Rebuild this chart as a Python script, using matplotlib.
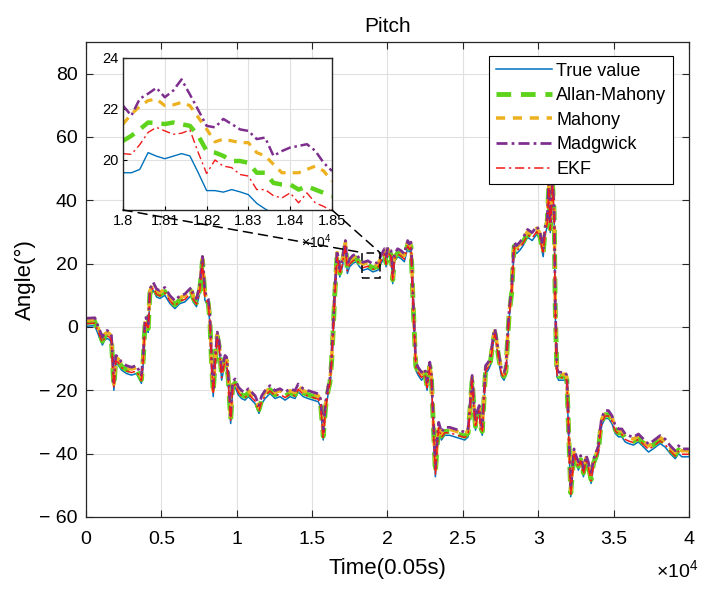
import matplotlib
matplotlib.use("Agg")
from matplotlib import pyplot as plt
from matplotlib.patches import Rectangle, ConnectionPatch
import numpy as np

plt.rcParams['font.family'] = ['Liberation Sans', 'DejaVu Sans']
plt.rcParams['mathtext.fontset'] = 'custom'
plt.rcParams['mathtext.rm'] = 'Liberation Sans'

# ---- data ----
series_names = ["True value", "Allan-Mahony", "Mahony", "Madgwick", "EKF"]

# main track (middle of the band, ~Allan-Mahony level)
t_main = [0, 590, 700, 920, 1090, 1250, 1410, 1580, 1690, 1760, 1850, 1980,
          2140, 2360, 2690, 3020, 3350, 3570, 3680, 3800, 3910, 3970, 4060,
          4130, 4240, 4460, 4680, 4900, 5230, 5570, 5900, 6230, 6560, 6780,
          7000, 7110, 7330, 7550, 7730, 7890, 8110, 8220, 8330, 8440, 8550,
          8710, 8840, 9000, 9220, 9330, 9440, 9600, 9730, 9890, 10110, 10330,
          10550, 10770, 11000, 11220, 11480, 11660, 11880, 12210, 12540,
          12870, 13210, 13540, 13870, 14080, 14410, 14740, 15080, 15410,
          15560, 15740, 15900, 16070, 16180, 16290, 16400, 16510, 16660,
          16840, 17010, 17210, 17340, 17490, 17710, 17930, 18150, 18370,
          18700, 19030, 19360, 19580, 19800, 19910, 20020, 20240, 20350,
          20460, 20680, 20900, 21120, 21340, 21450, 21560, 21710, 21880,
          22030, 22260, 22480, 22630, 22810, 22920, 23070, 23180, 23290,
          23400, 23580, 23800, 24130, 24470, 24800, 25130, 25350, 25460,
          25620, 25730, 25840, 25950, 26090, 26180, 26290, 26400, 26510,
          26690, 26840, 27020, 27130, 27240, 27400, 27570, 27730, 27860,
          27970, 28080, 28240, 28350, 28410, 28570, 28790, 29010, 29300,
          29600, 29900, 30100, 30330, 30450, 30600, 30700, 30800, 30950,
          31060, 31130, 31240, 31350, 31790, 31900, 31960, 32050, 32160,
          32270, 32380, 32510, 32670, 32820, 33000, 33180, 33330, 33510,
          33670, 33840, 34000, 34110, 34220, 34440, 34660, 34890, 35110,
          35330, 35550, 35770, 35990, 36320, 36650, 36980, 37320, 37650,
          38090, 38420, 38760, 39090, 39310, 39530, 40000]
pitch_main = [1.45, 1.6, 0.2, -2.4, -4.5, -2.9, -2.4, -2.9, -4.0, -10.3, -18.8,
              -10.3, -10.8, -12.4, -13.5, -14.0, -13.5, -15.6, -16.6, -10.3,
              0.2, 1.7, 0.6, -0.5, 10.7, 12.8, 10.7, 10.2, 11.2, 8.6, 7.0, 8.6,
              9.1, 10.2, 11.2, 9.1, 7.6, 11.8, 21.0, 9.7, 7.6, 2.3, -11.4,
              -20.8, -12.4, -2.9, -6.1, -15.6, -10.3, -10.8, -16.6, -29.3,
              -18.8, -17.7, -20.3, -21.4, -21.9, -20.8, -21.9, -23.0, -26.1,
              -23.0, -21.4, -19.8, -21.4, -20.8, -21.9, -20.8, -21.4, -19.3,
              -20.8, -21.4, -21.9, -22.4, -24.0, -34.5, -25.1, -19.8, -17.7,
              -11.4, -0.9, 10.7, 22.8, 17.0, 20.2, 26.0, 18.1, 20.2, 21.3,
              21.8, 20.2, 19.1, 19.6, 18.6, 19.1, 21.3, 23.4, 20.2, 23.9, 22.8,
              14.9, 21.8, 23.4, 22.8, 21.8, 26.0, 24.9, 25.5, 6.5, -12.4,
              -14.0, -15.6, -14.5, -18.8, -12.4, -16.6, -33.5, -46.1, -37.7,
              -31.4, -34.5, -33.0, -33.0, -33.5, -34.0, -34.5, -33.5, -27.2,
              -16.6, -25.1, -31.4, -28.2, -26.1, -31.4, -33.0, -23.0, -13.5,
              -12.4, -10.8, -4.0, -1.9, -5.1, -10.3, -14.5, -15.6, -14.0, -4.0,
              4.4, 10.7, 21.2, 25.5, 24.4, 25.5, 27.0, 29.5, 28.5, 30.5, 29.0,
              23.4, 30.0, 33.0, 44.0, 31.0, 45.0, 36.0, 6.5, -14.5, -15.6,
              -15.6, -16.6, -25.1, -37.7, -52.4, -46.1, -39.8, -41.9, -44.0,
              -41.9, -46.1, -41.9, -44.0, -48.2, -43.0, -40.9, -38.8, -33.5,
              -29.8, -27.7, -27.7, -29.3, -32.4, -33.5, -33.5, -35.1, -35.6,
              -36.1, -35.1, -36.7, -38.3, -37.2, -35.6, -36.7, -38.8, -40.4,
              -38.8, -39.8, -39.8]
# offset of each estimate from the band middle (deg)
series_bias = [-1.2, 0.0, 0.7, 1.3, -0.4]

# zoomed window 1.80e4 .. 1.85e4
t_zoom = [18000, 18020, 18040, 18060, 18080, 18100, 18120, 18140, 18160,
          18180, 18200, 18220, 18240, 18260, 18280, 18300, 18320, 18340,
          18360, 18380, 18400, 18420, 18440, 18460, 18480, 18500]
zoom_true = [19.50, 19.50, 19.63, 20.29, 20.15, 20.05, 20.15, 20.25, 20.16,
             19.50, 18.80, 18.80, 18.74, 18.84, 18.75, 18.64, 18.30, 18.08,
             17.90, 17.70, 17.60, 17.50, 17.60, 17.50, 17.40, 17.30]
zoom_allan = [20.75, 20.95, 21.20, 21.47, 21.45, 21.41, 21.47, 21.40, 21.34,
              20.95, 20.36, 20.29, 20.16, 19.96, 19.96, 19.89, 19.50, 19.50,
              19.10, 19.04, 19.04, 18.84, 18.97, 18.84, 18.71, 18.58]
zoom_mahony = [21.41, 21.80, 22.10, 22.33, 22.39, 22.13, 22.16, 22.26, 22.13,
               21.67, 21.21, 20.71, 20.82, 20.75, 20.68, 20.68, 20.29, 20.16,
               19.83, 19.50, 19.50, 19.50, 19.63, 19.76, 19.57, 19.17]
zoom_madgwick = [22.13, 21.74, 22.40, 22.60, 22.83, 22.46, 22.72, 23.16, 22.57,
                 21.96, 21.34, 21.28, 21.61, 21.41, 21.20, 21.14, 20.82, 20.88,
                 20.16, 20.35, 20.49, 20.55, 20.62, 20.36, 19.89, 19.57]
zoom_ekf = [20.25, 20.22, 20.60, 21.08, 21.28, 21.14, 21.01, 21.05, 21.18,
            20.29, 19.47, 20.00, 19.76, 19.70, 19.43, 19.37, 18.84, 18.84,
            18.60, 18.51, 18.71, 18.32, 18.71, 18.32, 18.18, 17.99]
zoom_series = [zoom_true, zoom_allan, zoom_mahony, zoom_madgwick, zoom_ekf]

x_ticks = np.arange(0, 40001, 5000)
x_ticklabels = ["0", "0.5", "1", "1.5", "2", "2.5", "3", "3.5", "4"]
y_ticks = np.arange(-60, 81, 20)
zoom_xticks = np.arange(18000, 18501, 100)
zoom_xticklabels = ["1.8", "1.81", "1.82", "1.83", "1.84", "1.85"]

# ---- styles ----
colors = ["#0072BD", "#5ED31C", "#EDB120", "#7E2F8E", "#F01A1A"]
widths = [1.0, 3.2, 2.3, 1.8, 1.0]
dashes = [None, (3, 2), (2.6, 2.2), (4, 1.5, 1, 1.5), (6, 2.5, 1.5, 2.5)]


def style_line(line, k):
    if dashes[k] is not None:
        line.set_dashes(dashes[k])


fig = plt.figure(figsize=(7.14, 5.93), dpi=100)
ax = fig.add_axes([0.1204, 0.1282, 0.8445, 0.8010])

track = np.array(pitch_main)
for k, name in enumerate(series_names):
    ln, = ax.plot(t_main, track + series_bias[k], color=colors[k],
                  lw=widths[k] * 1.1, label=name)
    style_line(ln, k)

ax.set_xlim(0, 40000)
ax.set_ylim(-60, 90)
ax.set_xticks(x_ticks)
ax.set_xticklabels(x_ticklabels)
ax.set_yticks(y_ticks)
ax.set_yticklabels([("\u2212 " + str(-v)) if v < 0 else str(v)
                    for v in y_ticks])
ax.tick_params(direction='in', top=True, right=True, length=5, width=0.8,
               labelsize=14, pad=6, colors='#262626', labelcolor='black')
ax.tick_params(axis='x', pad=10)
ax.grid(True, color='#e0e0e0', lw=0.8)
ax.set_axisbelow(True)
for sp in ax.spines.values():
    sp.set_color('#262626')
    sp.set_linewidth(0.9)
ax.set_title("Pitch", fontsize=15, pad=7)
ax.set_xlabel("Time(0.05s)", fontsize=16, labelpad=7)
ax.set_ylabel("Angle(°)", fontsize=16, labelpad=2)
ax.text(1.015, -0.112, "×$\\mathregular{10^4}$", transform=ax.transAxes,
        ha='right', va='center', fontsize=14)

leg = ax.legend(loc='upper right', bbox_to_anchor=(0.973, 0.970),
                fontsize=13, handlelength=3.1, handletextpad=0.25,
                labelspacing=0.42, borderpad=0.35, borderaxespad=0,
                fancybox=False, edgecolor='black', framealpha=1)
leg.get_frame().set_linewidth(0.8)

# zoom box on main axes
ax.add_patch(Rectangle((18300, 15.5), 1200, 8.0, fill=False, ec='black',
                       lw=1.1, ls=(0, (5, 3)), zorder=5))

# inset
axin = fig.add_axes([0.1723, 0.6459, 0.2927, 0.2563])
for k, name in enumerate(series_names):
    ln, = axin.plot(t_zoom, zoom_series[k], color=colors[k], lw=widths[k])
    style_line(ln, k)
axin.set_xlim(18000, 18500)
axin.set_ylim(18.04, 24)
axin.set_xticks(zoom_xticks)
axin.set_xticklabels(zoom_xticklabels)
axin.set_yticks([20, 22, 24])
axin.tick_params(direction='in', length=3, width=0.8, labelsize=10.5, pad=3)
axin.grid(True, color='#e0e0e0', lw=0.8)
axin.set_axisbelow(True)
for sp in axin.spines.values():
    sp.set_color('#262626')
    sp.set_linewidth(1.0)
axin.text(1.0, -0.21, "×$\\mathregular{10^4}$", transform=axin.transAxes,
          ha='right', va='center', fontsize=10)

for corner, target in [((0, 0), (18300, 23.5)), ((1, 0), (19500, 23.5))]:
    con = ConnectionPatch(xyA=corner, coordsA=axin.transAxes, xyB=target,
                          coordsB=ax.transData, color='black', lw=1.1,
                          ls=(0, (6, 4)))
    fig.add_artist(con)

plt.savefig("out.png", dpi=100)
